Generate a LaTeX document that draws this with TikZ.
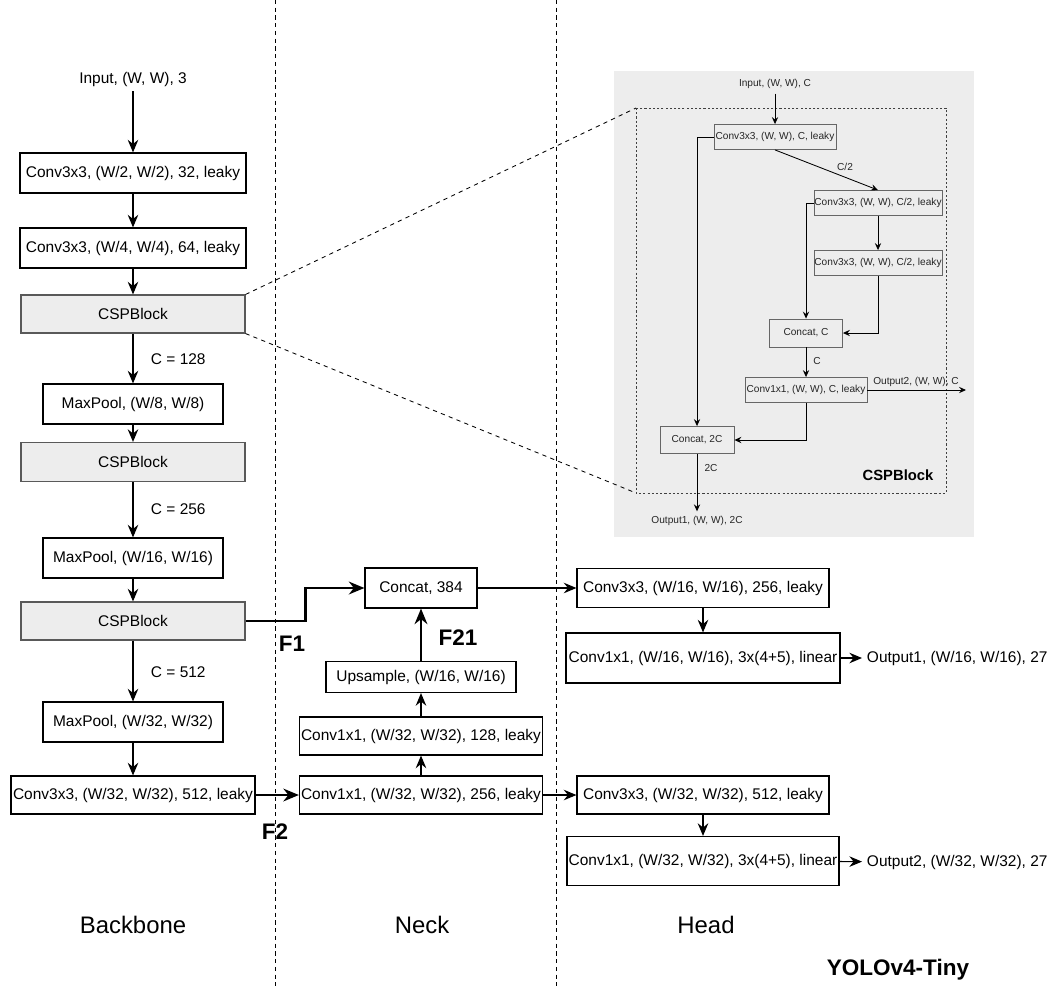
\documentclass[tikz,border=0pt]{standalone}
\usepackage{fontspec}
\setmainfont{Liberation Sans}
\usetikzlibrary{arrows.meta}

\begin{document}
\begin{tikzpicture}[x=0.025cm,y=-0.025cm,
  box/.style={draw,fill=white,line width=0.8pt,inner sep=0pt,minimum height=1cm,font=\fontsize{11}{13}\selectfont},
  cspbox/.style={box,draw=black!65,fill=black!7},
  lbl/.style={font=\fontsize{11}{13}\selectfont},
  cspsmall/.style={draw=black!60,line width=0.6pt,inner sep=0pt,minimum height=0.625cm,text=black!85,font=\fontsize{7.2}{8}\selectfont},
  smalllbl/.style={text=black!85,font=\fontsize{7.2}{8}\selectfont},
  flow/.style={line width=0.8pt,-{Stealth[length=9pt,width=7.5pt,inset=3pt]}},
  boldflow/.style={line width=2pt,-{Stealth[length=11pt,width=9pt,inset=3.5pt]}},
  thinflow/.style={line width=0.6pt,-{Stealth[length=5pt,width=4.5pt,inset=1.8pt]}},
  divider/.style={line width=0.6pt,dash pattern=on 3pt off 2.5pt},
  flabel/.style={font=\fontsize{16}{18}\bfseries\selectfont},
  part/.style={font=\fontsize{17}{20}\selectfont}]
\useasboundingbox (0,0) rectangle (1049,986);

\draw[divider] (275,0) -- (275,986);
\draw[divider] (556,0) -- (556,986);

% backbone
\node[lbl] (input) at (133,79) {Input, (W, W), 3};
\node[box,minimum width=5.65cm] (conv1) at (133,173) {Conv3x3, (W/2, W/2), 32, leaky};
\node[box,minimum width=5.65cm] (conv2) at (133,248) {Conv3x3, (W/4, W/4), 64, leaky};
\node[cspbox,minimum width=5.6cm,minimum height=0.95cm] (csp1) at (133,314) {CSPBlock};
\node[box,minimum width=4.5cm] (pool1) at (133,404) {MaxPool, (W/8, W/8)};
\node[cspbox,minimum width=5.6cm,minimum height=0.975cm] (csp2) at (133,462) {CSPBlock};
\node[box,minimum width=4.5cm] (pool2) at (133,558) {MaxPool, (W/16, W/16)};
\node[cspbox,minimum width=5.6cm,minimum height=0.95cm] (csp3) at (133,621) {CSPBlock};
\node[box,minimum width=4.5cm] (pool3) at (133,722) {MaxPool, (W/32, W/32)};
\node[box,minimum width=6.1cm,minimum height=0.95cm] (conv3) at (133,795) {Conv3x3, (W/32, W/32), 512, leaky};
\node[lbl,anchor=west] (c128) at (146,359) {C = 128};
\node[lbl,anchor=west] (c256) at (146,509) {C = 256};
\node[lbl,anchor=west] (c512) at (146,672) {C = 512};
\foreach \a/\b in {input/conv1,conv1/conv2,conv2/csp1,csp1/pool1,pool1/csp2,csp2/pool2,pool2/csp3,csp3/pool3,pool3/conv3}
  \draw[flow] (\a) -- (\b);

% neck
\node[box,minimum width=2.8cm] (cat384) at (421,588) {Concat, 384};
\node[box,minimum width=4.75cm,minimum height=0.775cm] (up) at (421,677) {Upsample, (W/16, W/16)};
\node[box,minimum width=6.075cm,minimum height=0.95cm] (neck128) at (421,736) {Conv1x1, (W/32, W/32), 128, leaky};
\node[box,minimum width=6.075cm,minimum height=0.95cm] (neck256) at (421,795) {Conv1x1, (W/32, W/32), 256, leaky};
\draw[flow] (neck256) -- (neck128);
\draw[flow] (neck128) -- (up);
\draw[boldflow] (up) -- (cat384);
\draw[boldflow] (csp3.east) -- ++(60,0) |- (cat384.west);
\draw[boldflow] (conv3.east) -- (neck256.west);
\node[flabel] (f1) at (292,644) {F1};
\node[flabel] (f21) at (458,638) {F21};
\node[flabel] (f2) at (275,832) {F2};

% head
\node[box,minimum width=6.3cm,minimum height=0.975cm] (head1) at (703,588) {Conv3x3, (W/16, W/16), 256, leaky};
\node[box,minimum width=6.85cm,minimum height=1.25cm] (head2) at (703,658) {Conv1x1, (W/16, W/16), 3x(4+5), linear};
\node[box,minimum width=6.3cm,minimum height=0.95cm] (head3) at (703,795) {Conv3x3, (W/32, W/32), 512, leaky};
\node[box,minimum width=6.8cm,minimum height=1.225cm] (head4) at (703,861) {Conv1x1, (W/32, W/32), 3x(4+5), linear};
\node[lbl,anchor=west] (out1) at (862,658) {Output1, (W/16, W/16), 27};
\node[lbl,anchor=west] (out2) at (862,862) {Output2, (W/32, W/32), 27};
\draw[flow] (cat384) -- (head1);
\draw[flow] (neck256) -- (head3);
\draw[flow] (head1) -- (head2);
\draw[flow] (head3) -- (head4);
\draw[flow] (head2) -- (out1);
\draw[flow] (head4) -- (out2);

\node[part] (backbone) at (133,925) {Backbone};
\node[part] (neck) at (422,925) {Neck};
\node[part] (head) at (706,925) {Head};
\node[font=\fontsize{16}{18}\bfseries\selectfont] (title) at (898,970) {YOLOv4-Tiny};

% csp block detail
\fill[black!7] (614,71) rectangle (974,537);
\coordinate (dtl) at (636,108);
\coordinate (dbr) at (946,493);
\draw[line width=0.6pt,black!75,dash pattern=on 1.5pt off 1.5pt] (dtl) rectangle (dbr);
\draw[line width=0.6pt,dash pattern=on 3pt off 3pt] (csp1.north east) -- (dtl);
\draw[line width=0.6pt,dash pattern=on 3pt off 3pt] (csp1.south east) -- (dtl |- dbr);
\node[smalllbl] (pin) at (775,84) {Input, (W, W), C};
\node[cspsmall,minimum width=3.05cm] (p1) at (775,137) {Conv3x3, (W, W), C, leaky};
\node[cspsmall,minimum width=3.2cm] (p2) at (878,203) {Conv3x3, (W, W), C/2, leaky};
\node[cspsmall,minimum width=3.2cm] (p3) at (878,263) {Conv3x3, (W, W), C/2, leaky};
\node[cspsmall,minimum width=1.825cm,minimum height=0.7cm] (pcat1) at (806,333) {Concat, C};
\node[cspsmall,minimum width=3.05cm] (p4) at (806,390) {Conv1x1, (W, W), C, leaky};
\node[cspsmall,minimum width=1.85cm,minimum height=0.675cm] (pcat2) at (697,440) {Concat, 2C};
\node[smalllbl] (pout1) at (697,521) {Output1, (W, W), 2C};
\coordinate (pout2) at (966,390);
\node[smalllbl] (pout2lbl) at (916,382) {Output2, (W, W), C};
\node[smalllbl] (ph) at (845,167) {C/2};
\node[smalllbl] (pc) at (817,361) {C};
\node[smalllbl] (p2c) at (711,468) {2C};
\node[font=\fontsize{10.5}{12}\bfseries\selectfont] (pname) at (898,475) {CSPBlock};
\draw[thinflow] (pin) -- (p1);
\draw[thinflow] (p1.south) -- (p2.north);
\draw[thinflow] (p1.west) -| (pcat2.north);
\draw[thinflow] (p2.west) -| (pcat1.north);
\draw[thinflow] (p2) -- (p3);
\draw[thinflow] (p3.south) |- (pcat1.east);
\draw[thinflow] (pcat1) -- (p4);
\draw[thinflow] (p4.south) |- (pcat2.east);
\draw[thinflow] (p4.east) -- (pout2);
\draw[thinflow] (pcat2) -- (pout1);
\end{tikzpicture}
\end{document}
